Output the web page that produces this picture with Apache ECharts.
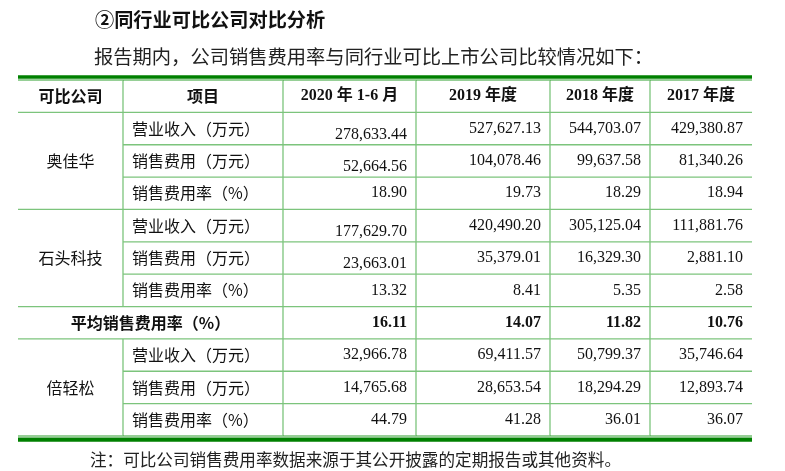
<!DOCTYPE html>
<html><head><meta charset="utf-8">
<script src="https://cdn.jsdelivr.net/npm/echarts@6/dist/echarts.min.js"></script>
<style>html,body{margin:0;padding:0;background:#fff}#c{width:785px;height:471px}</style>
</head><body><div id="c"></div>
<script>
// ---------- data ----------
const titleText = '②同行业可比公司对比分析';
const introText = '报告期内，公司销售费用率与同行业可比上市公司比较情况如下：';
const noteText = '注：可比公司销售费用率数据来源于其公开披露的定期报告或其他资料。';
const headerLabels = ['可比公司', '项目'];
const periods = ['2020 年 1-6 月', '2019 年度', '2018 年度', '2017 年度'];
const items = ['营业收入（万元）', '销售费用（万元）', '销售费用率（%）'];
const companyNames = ['奥佳华', '石头科技', '倍轻松'];
const aojiahuaValues = [
  [278633.44, 527627.13, 544703.07, 429380.87],
  [52664.56, 104078.46, 99637.58, 81340.26],
  [18.90, 19.73, 18.29, 18.94]
];
const shitouValues = [
  [177629.70, 420490.20, 305125.04, 111881.76],
  [23663.01, 35379.01, 16329.30, 2881.10],
  [13.32, 8.41, 5.35, 2.58]
];
const avgLabel = '平均销售费用率（%）';
const avgRate = [16.11, 14.07, 11.82, 10.76];
const beiqingsongValues = [
  [32966.78, 69411.57, 50799.37, 35746.64],
  [14765.68, 28653.54, 18294.29, 12893.74],
  [44.79, 41.28, 36.01, 36.07]
];

// ---------- layout (not data) ----------
const COL_W = [105, 160, 133, 134, 100, 102];
const EDGES = [0];
COL_W.forEach(w => EDGES.push(EDGES[EDGES.length - 1] + w));
const TOTAL_W = EDGES[EDGES.length - 1];
const N_ROWS = 11;
const CJK = '"Noto Sans CJK SC", sans-serif';
const NUM = '"Liberation Serif", "Noto Sans CJK SC", serif';

const fmt = v => v.toLocaleString('en-US', {minimumFractionDigits: 2, maximumFractionDigits: 2});

// ---------- build cells ----------
const cells = [];
function addCell(c0, c1, r0, r1, text, opt) {
  cells.push(Object.assign({value: [EDGES[c0], EDGES[c1], r0, r1], text: text, align: 'center', bold: false, num: false, dy: 0}, opt || {}));
}
headerLabels.forEach((t, i) => addCell(i, i + 1, 0, 1, t, {bold: true}));
periods.forEach((t, i) => addCell(i + 2, i + 3, 0, 1, t, {bold: true, num: true}));

function addCompany(ci, start, values) {
  addCell(0, 1, start, start + 3, companyNames[ci]);
  items.forEach((it, k) => {
    addCell(1, 2, start + k, start + k + 1, it, {align: 'left'});
    values[k].forEach((v, p) => {
      addCell(p + 2, p + 3, start + k, start + k + 1, fmt(v), {
        align: 'right', num: true,
        dy: (p === 0 && k < 2 && ci < 2) ? 6 : 0
      });
    });
  });
}
addCompany(0, 1, aojiahuaValues);
addCompany(1, 4, shitouValues);
addCell(0, 2, 7, 8, avgLabel, {bold: true});
avgRate.forEach((v, p) => addCell(p + 2, p + 3, 7, 8, fmt(v), {align: 'right', num: true, bold: true}));
addCompany(2, 8, beiqingsongValues);

const LIGHT = '#7cc47c';
const DARK = '#008000';
const MID = '#2f9f2f';

function renderItem(params, api) {
  const cell = cells[params.dataIndex];
  const p0 = api.coord([api.value(0), api.value(2)]);
  const p1 = api.coord([api.value(1), api.value(3)]);
  const children = [];
  const isLast = api.value(3) === N_ROWS;
  children.push({type: 'line', shape: {x1: p0[0], y1: p1[1], x2: p1[0], y2: p1[1]},
    style: {stroke: isLast ? MID : LIGHT, lineWidth: isLast ? 1.2 : 1.3}});
  if (isLast) {
    children.push({type: 'line', shape: {x1: p0[0], y1: p1[1] + 3.6, x2: p1[0], y2: p1[1] + 3.6},
      style: {stroke: DARK, lineWidth: 4.4}});
  }
  if (api.value(2) === 0) {
    children.push({type: 'line', shape: {x1: p0[0], y1: p0[1], x2: p1[0], y2: p0[1]},
      style: {stroke: MID, lineWidth: 1.2}});
    children.push({type: 'line', shape: {x1: p0[0], y1: p0[1] - 3, x2: p1[0], y2: p0[1] - 3},
      style: {stroke: DARK, lineWidth: 3.4}});
  }
  if (api.value(1) < TOTAL_W) {
    children.push({type: 'line', shape: {x1: p1[0], y1: p0[1], x2: p1[0], y2: p1[1]},
      style: {stroke: LIGHT, lineWidth: 1.3}});
  }
  let tx = (p0[0] + p1[0]) / 2;
  if (cell.align === 'left') tx = p0[0] + 9;
  if (cell.align === 'right') tx = p1[0] - 9;
  children.push({type: 'text', style: {
    text: cell.text, x: tx, y: (p0[1] + p1[1]) / 2 + cell.dy,
    align: cell.align, verticalAlign: 'middle',
    fontFamily: cell.num ? NUM : CJK, fontSize: 16,
    fontWeight: cell.bold ? 'bold' : 'normal', fill: '#111'
  }, z2: 10});
  return {type: 'group', children: children};
}

const chart = echarts.init(document.getElementById('c'), null, {renderer: 'canvas'});
chart.setOption({
  backgroundColor: '#fff',
  animation: false,
  title: [
    {text: titleText, left: 95, top: 10, padding: 0,
      textStyle: {fontFamily: CJK, fontSize: 19.2, fontWeight: 'bold', color: '#111'}},
    {text: introText, left: 94, top: 47, padding: 0,
      textStyle: {fontFamily: CJK, fontSize: 19.3, fontWeight: 'normal', color: '#222'}},
    {text: noteText, left: 90, top: 451, padding: 0,
      textStyle: {fontFamily: CJK, fontSize: 16.6, fontWeight: 'normal', color: '#222'}}
  ],
  grid: {left: 18, top: 80, width: TOTAL_W, height: 356, containLabel: false},
  xAxis: {type: 'value', min: 0, max: TOTAL_W, show: false},
  yAxis: {type: 'value', min: 0, max: N_ROWS, inverse: true, show: false},
  series: [{
    type: 'custom',
    renderItem: renderItem,
    encode: {x: [0, 1], y: [2, 3]},
    data: cells.map(c => ({value: c.value})),
    clip: false,
    silent: true
  }]
});
</script>
</body></html>
